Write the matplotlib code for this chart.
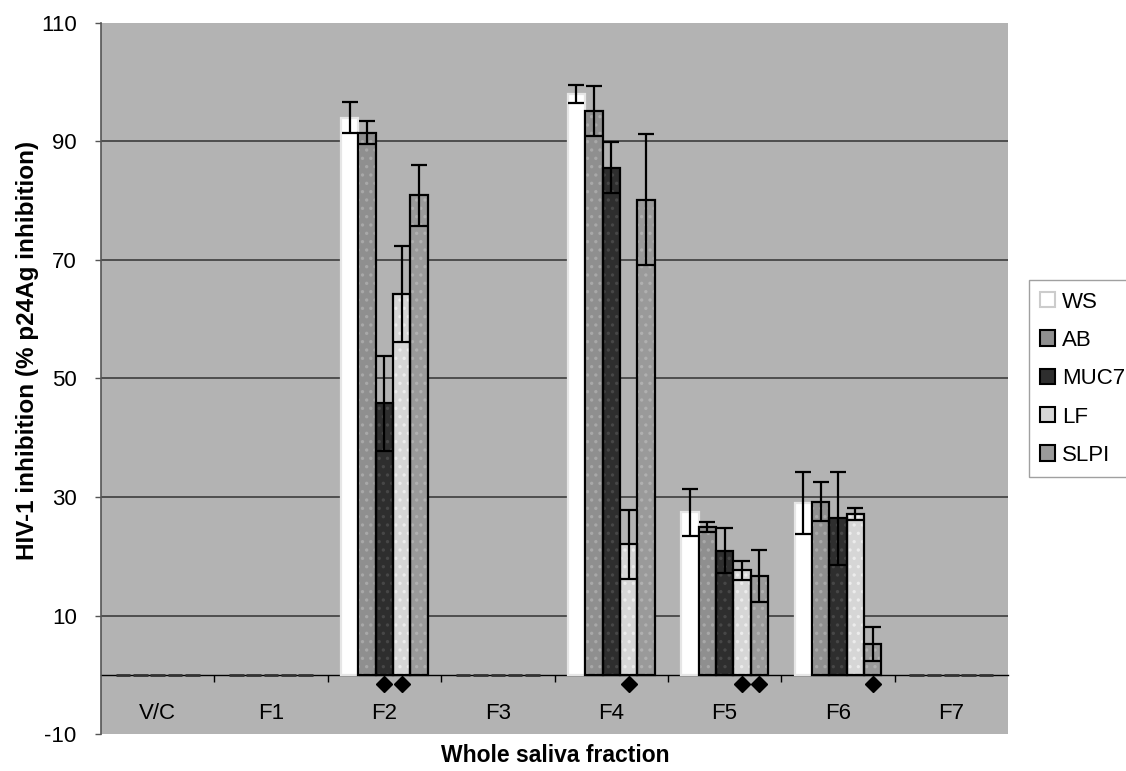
import matplotlib
matplotlib.use('Agg')  # no display in the sandbox
import matplotlib.pyplot as plt
import numpy as np
from matplotlib.patches import Patch

plt.rcParams['font.family'] = ['Liberation Sans', 'DejaVu Sans']
plt.rcParams['hatch.linewidth'] = 1.2
plt.rcParams['axes.unicode_minus'] = False

# --- DATA ---
categories = ['V/C', 'F1', 'F2', 'F3', 'F4', 'F5', 'F6', 'F7']
series = ['WS', 'AB', 'MUC7', 'LF', 'SLPI']

ws = [0, 0, 94.0, 0, 98.0, 27.4, 29.0, 0]
ab = [0, 0, 91.5, 0, 95.1, 24.9, 29.2, 0]
muc7 = [0, 0, 45.8, 0, 85.6, 20.9, 26.4, 0]
lf = [0, 0, 64.2, 0, 22.0, 17.6, 27.1, 0]
slpi = [0, 0, 80.9, 0, 80.2, 16.7, 5.2, 0]

ws_err = [0, 0, 2.6, 0, 1.5, 4.0, 5.2, 0]
ab_err = [0, 0, 1.9, 0, 4.2, 0.8, 3.3, 0]
muc7_err = [0, 0, 8.0, 0, 4.3, 3.8, 7.8, 0]
lf_err = [0, 0, 8.1, 0, 5.8, 1.6, 1.0, 0]
slpi_err = [0, 0, 5.1, 0, 11.0, 4.4, 2.8, 0]

# fractions/series flagged with a diamond under the axis
significant = [('F2', 'MUC7'), ('F2', 'LF'), ('F4', 'LF'),
               ('F5', 'LF'), ('F5', 'SLPI'), ('F6', 'SLPI')]

values = [ws, ab, muc7, lf, slpi]
errors = [ws_err, ab_err, muc7_err, lf_err, slpi_err]

# --- STYLE ---
bg = '#b3b3b3'
faces = ['#ffffff', '#8f8f8f', '#2e2e2e', '#d6d6d6', '#9a9a9a']
dots = ['#ffffff', '#a8a8a8', '#474747', '#ececec', '#b0b0b0']
outlines = ['#e6e6e6', 'black', 'black', 'black', 'black']
width = 0.153

fig = plt.figure(figsize=(11.26, 7.71), dpi=100)
ax = fig.add_axes([101 / 1126, 1 - 734 / 771, 907 / 1126, 711 / 771])
ax.set_facecolor(bg)

x = np.arange(len(categories))
for j, name in enumerate(series):
    vals = np.array(values[j], dtype=float)
    errs = np.array(errors[j], dtype=float)
    pos = x + (j - 2) * width
    nz = vals > 0
    # fill with a light dotted texture, then the outline on top
    ax.bar(pos[nz], vals[nz], width, color=faces[j], edgecolor=dots[j],
           hatch=None if j == 0 else '..', linewidth=0, zorder=3)
    ax.bar(pos[nz], vals[nz], width, fill=False, edgecolor=outlines[j],
           linewidth=1.6, zorder=4)
    # zero values show up as short dashes on the axis
    ax.hlines(np.zeros((~nz).sum()), pos[~nz] - width * 0.42,
              pos[~nz] + width * 0.42, color='#333333', lw=2.0, zorder=5)
    ax.errorbar(pos[nz], vals[nz], yerr=errs[nz], fmt='none', ecolor='black',
                elinewidth=1.6, capsize=5.5, capthick=1.6, zorder=6)

for frac, name in significant:
    i = categories.index(frac)
    j = series.index(name)
    ax.plot(x[i] + (j - 2) * width, -1.5, marker='D', ms=8, color='black',
            clip_on=False, zorder=7)

ax.set_xlim(-0.5, len(categories) - 0.5)
ax.set_ylim(-10, 110)
ax.set_yticks(np.arange(-10, 111, 20))
ax.yaxis.grid(True, color='#333333', lw=1.1)
gl = ax.get_ygridlines()
gl[0].set_visible(False)
gl[-1].set_visible(False)
ax.set_axisbelow(True)

ax.spines['top'].set_visible(False)
ax.spines['right'].set_visible(False)
ax.spines['left'].set_color('#555555')
ax.spines['left'].set_linewidth(1.2)
ax.spines['bottom'].set_position(('data', 0))
ax.spines['bottom'].set_color('black')
ax.spines['bottom'].set_linewidth(1.0)
ax.spines['bottom'].set_zorder(2)

ax.set_xticks(x)
ax.set_xticklabels(categories, fontsize=16)
ax.set_xticks(x[:-1] + 0.5, minor=True)
ax.tick_params(axis='x', which='major', length=0, pad=20)
ax.tick_params(axis='x', which='minor', length=5, width=1.0, color='black')
ax.tick_params(axis='y', length=4.5, width=1.0, color='#555555', labelsize=16,
               pad=13)

fig.text(28 / 1126, 0.546, 'HIV-1 inhibition (% p24Ag inhibition)', rotation=90,
         ha='center', va='center', fontsize=17.5, fontweight='bold')
fig.text(555 / 1126, 1 - 755 / 771, 'Whole saliva fraction', ha='center',
         va='center', fontsize=16.5, fontweight='bold')

handles = [Patch(facecolor=faces[j], edgecolor=outlines[j] if j else '#cccccc',
                 linewidth=1.5) for j in range(len(series))]
fig.legend(handles, series, loc='lower left',
           bbox_to_anchor=(1029 / 1126, 1 - 477 / 771), fontsize=16,
           frameon=True, fancybox=False, edgecolor='#888888',
           handlelength=0.68, handleheight=0.68, handletextpad=0.3,
           labelspacing=0.78, borderpad=0.5, borderaxespad=0)

fig.savefig('out.png', dpi=100)
